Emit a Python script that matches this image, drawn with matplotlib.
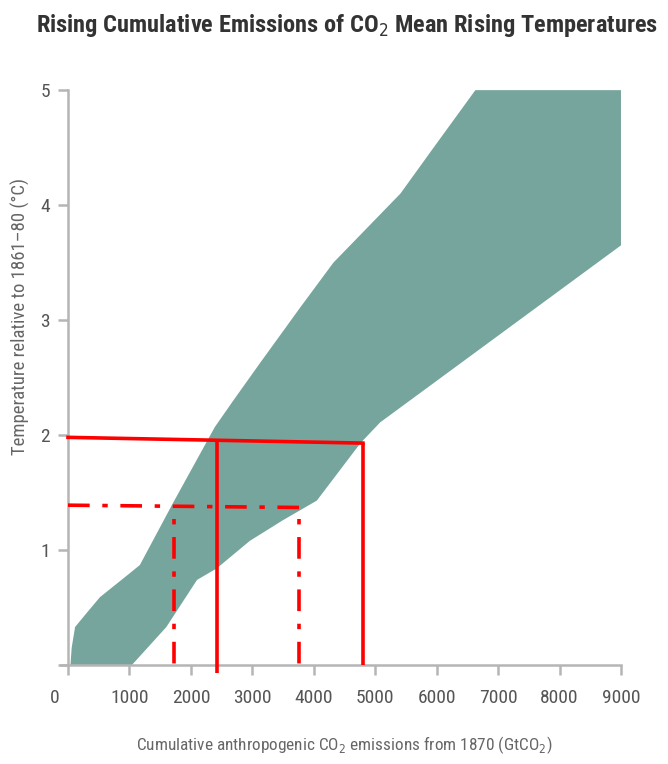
import matplotlib.pyplot as plt
import matplotlib.transforms as mtransforms

# band of projected warming vs cumulative emissions
upper_x = [40, 60, 115, 300, 520, 1010, 1170, 1710, 2390, 2690, 3130, 3780, 4320, 5410, 5950, 6630, 9000]
upper_y = [0.0, 0.15, 0.33, 0.45, 0.59, 0.80, 0.87, 1.41, 2.07, 2.30, 2.63, 3.11, 3.50, 4.10, 4.50, 5.0, 5.0]
lower_x = [1040, 1600, 2100, 2420, 2960, 3500, 4050, 4760, 5080, 9000]
lower_y = [0.0, 0.33, 0.74, 0.84, 1.08, 1.26, 1.43, 1.93, 2.11, 3.65]

# 2 degree target (solid) and 1.5 degree target (dash-dot)
two_deg_y = [1.98, 1.93]
two_deg_x = [2420, 4800]
two_deg_bottom = [-0.07, 0.0]
one5_deg_y = [1.39, 1.37]
one5_deg_x = [1730, 3760]
one5_deg_top = 1.27
one5_deg_bottom = -0.06

x_ticks = [0, 1000, 2000, 3000, 4000, 5000, 6000, 7000, 8000, 9000]
y_ticks = [0, 1, 2, 3, 4, 5]
y_ticklabels = ['', '1', '2', '3', '4', '5']

plt.rcParams['font.family'] = ['Roboto Condensed', 'Liberation Sans Narrow', 'DejaVu Sans']
plt.rcParams['font.stretch'] = 'condensed'

fig = plt.figure(figsize=(6.68, 7.64), dpi=100)
ax = fig.add_axes([0.1018, 0.1296, 0.8278, 0.7524])

poly_x = upper_x + lower_x[::-1]
poly_y = upper_y + lower_y[::-1]
ax.fill(poly_x, poly_y, color='#76a59d', lw=0, zorder=1)

red = '#ff0000'
lw = 2.6
dash = (6, 3.5, 1.5, 3.5)

# solid lines
ax.plot([0, two_deg_x[1]], two_deg_y, color=red, lw=lw, clip_on=False, zorder=3)
for xv, yt, yb in zip(two_deg_x, [two_deg_y[0] - 0.02, two_deg_y[1]], two_deg_bottom):
    ax.plot([xv, xv], [yt, yb], color=red, lw=lw, clip_on=False, zorder=3,
            solid_capstyle='butt')

# dash-dot lines
l, = ax.plot([0, one5_deg_x[1]], one5_deg_y, color=red, lw=lw, clip_on=False, zorder=3)
l.set_dashes(dash)
for xv in one5_deg_x:
    l, = ax.plot([xv, xv], [one5_deg_top, one5_deg_bottom], color=red, lw=lw,
                 clip_on=False, zorder=3)
    l.set_dashes((1.5, 3.5, 6, 3.5))

ax.set_xlim(0, 9000)
ax.set_ylim(0, 5)
ax.set_xticks(x_ticks)
ax.set_xticklabels([str(t) for t in x_ticks])
ax.set_yticks(y_ticks)
ax.set_yticklabels(y_ticklabels)

for s in ['top', 'right']:
    ax.spines[s].set_visible(False)
for s in ['left', 'bottom']:
    ax.spines[s].set_color('#b5b5b5')
    ax.spines[s].set_linewidth(1.8)
ax.spines['bottom'].set_bounds(-110, 9000)
ax.tick_params(colors='#b5b5b5', width=1.8, length=7, labelcolor='#555555',
               labelsize=14)
ax.tick_params(axis='x', pad=10)
ax.tick_params(axis='y', pad=6)

# the zero label sits a bit left of its tick
zero_lbl = ax.get_xticklabels()[0]
zero_lbl.set_transform(zero_lbl.get_transform() +
                       mtransforms.ScaledTranslation(-0.13, 0, fig.dpi_scale_trans))

ax.set_xlabel('Cumulative anthropogenic CO$_2$ emissions from 1870 (GtCO$_2$)',
              fontsize=12.4, color='#666666', labelpad=20)
ax.set_ylabel('Temperature relative to 1861–80 (°C)', fontsize=13.5,
              color='#666666')
ax.yaxis.set_label_coords(-0.068, 0.606)

fig.text(0.52, 0.967, 'Rising Cumulative Emissions of CO$_2$ Mean Rising Temperatures',
         ha='center', va='center', fontsize=17.6, fontweight='bold', color='#333333')

fig.savefig('out.png', dpi=100, facecolor='white')
